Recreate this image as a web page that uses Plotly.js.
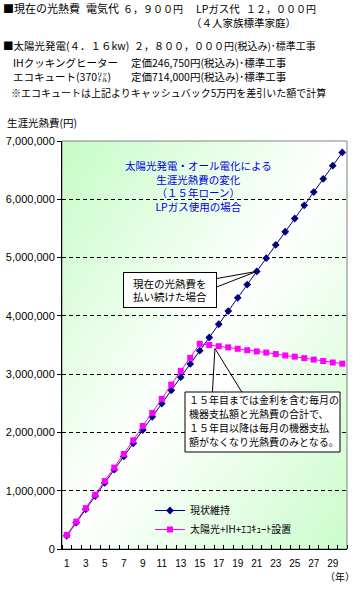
<!DOCTYPE html>
<html><head><meta charset="utf-8">
<script src="https://cdn.plot.ly/plotly-3.0.1.min.js"></script>
<style>html,body{margin:0;padding:0;background:#fff;}#c{width:363px;height:591px;}</style>
</head><body><div id="c"></div>
<script>
// ---- data ----
const years = [1,2,3,4,5,6,7,8,9,10,11,12,13,14,15,16,17,18,19,20,21,22,23,24,25,26,27,28,29,30];
const currentCost = [226800,453600,680400,907200,1134000,1360800,1587600,1814400,2041200,2268000,
  2494800,2721600,2948400,3175200,3402000,3628800,3855600,4082400,4309200,4536000,
  4762800,4989600,5216400,5443200,5670000,5896800,6123600,6350400,6577200,6804000];
const solarCost = [240000,470000,700000,930000,1165000,1395000,1630000,1865000,2110000,2335000,
  2575000,2820000,3055000,3280000,3520000,3500000,3480000,3460000,3435000,3410000,
  3390000,3370000,3345000,3320000,3300000,3275000,3250000,3225000,3200000,3180000];
const seriesNames = ['現状維持','太陽光+IH+ｴｺｷｭｰﾄ設置'];
const xTickVals = [1,3,5,7,9,11,13,15,17,19,21,23,25,27,29];
const yTickVals = [0,1000000,2000000,3000000,4000000,5000000,6000000,7000000];
const yTickText = ['0','1,000,000','2,000,000','3,000,000','4,000,000','5,000,000','6,000,000','7,000,000'];
const noteLines = ['１５年目までは金利を含む毎月の','機器支払額と光熱費の合計で、','１５年目以降は毎月の機器支払','額がなくなり光熱費のみとなる。'];

// ---- geometry helpers (plot area in px) ----
const L = 62, R = 347, T = 141, B = 549;
const px = x => (x - L) / (R - L);
const py = y => (B - y) / (B - T);
const JP = "'Noto Sans CJK JP', sans-serif";
const NUM = "'Liberation Sans', Arial, sans-serif";

function txt(text, x, y, size, extra) {
  return Object.assign({text: text, xref:'paper', yref:'paper', x: px(x), y: py(y),
    xanchor:'left', yanchor:'middle', showarrow:false, borderpad:0,
    font:{family: JP, size: size, color:'#000'}}, extra || {});
}

const annotations = [
  txt('■現在の光熱費', 2, 8, 11),
  txt('電気代', 85, 8, 11),
  txt('６，９００円', 122, 8, 10),
  txt('LPガス代', 195, 8, 10.5),
  txt('１２，０００円', 245, 8, 10),
  txt('（４人家族標準家庭）', 190, 23, 10.5),
  txt('■太陽光発電(４．１６kw)', 2, 46, 10.5),
  txt('２，８００，０００円(税込み)･標準工事', 133, 46, 10),
  txt('IHクッキングヒーター', 12, 62, 10.5),
  txt('定価246,750円(税込み)･標準工事', 130, 62, 10.5),
  txt('エコキュート(370㍑)', 12, 77, 10.5),
  txt('定価714,000円(税込み)･標準工事', 130, 77, 10.5),
  txt('※エコキュートは上記よりキャッシュバック5万円を差引いた額で計算', 10, 92, 10),
  txt('生涯光熱費(円)', 6, 123, 10.5),
  txt('（年）', 324, 576, 10),
  // chart title
  {text:'太陽光発電・オール電化による<br>生涯光熱費の変化<br>（１５年ローン）<br>LPガス使用の場合',
   xref:'paper', yref:'paper', x: px(198), y: py(186), xanchor:'center', yanchor:'middle',
   showarrow:false, align:'center', font:{family: JP, size: 10.5, color:'#0000E0'}},
  // small callout box
  {text:'現在の光熱費を<br>払い続けた場合', xref:'paper', yref:'paper',
   x: px(170), y: py(290), xanchor:'center', yanchor:'middle', showarrow:false,
   width: 90, height: 32, bgcolor:'#fff', bordercolor:'#000', borderwidth:1, borderpad:1,
   align:'center', font:{family: JP, size: 10.5, color:'#000'}}
];
// big callout box lines
noteLines.forEach((s, i) => annotations.push(txt(s, 188, 399 + i * 14.3, 10)));

// px -> data conversion for callout bases
const dx = x => (x - L) / 9.5 + 0.5;
const dy = y => (B - y) / (B - T) * 7000000;

const i21 = years.indexOf(21), i16 = years.indexOf(16);
const wedge1 = `M ${dx(214)},${dy(279)} L ${years[i21]},${currentCost[i21]} L ${dx(214)},${dy(288)} Z`;
const wedge2 = `M ${dx(212.3)},${dy(394)} L ${years[i16] + 0.6},${solarCost[i16] - 60000} L ${dx(243)},${dy(394)} Z`;

const gradSvg = "<svg xmlns='http://www.w3.org/2000/svg' width='285' height='408' viewBox='0 0 285 408' preserveAspectRatio='none'>" +
  "<defs><linearGradient id='g' x1='0' y1='0' x2='1' y2='1'>" +
  "<stop offset='0' stop-color='#c6fcc6'/><stop offset='0.5' stop-color='#ffffff'/><stop offset='1' stop-color='#cbfccb'/>" +
  "</linearGradient></defs><rect width='285' height='408' fill='url(#g)'/></svg>";

const traces = [
  {x: years, y: currentCost, name: seriesNames[0], type:'scatter', mode:'lines+markers',
   line:{color:'#000080', width:1}, marker:{symbol:'diamond', size:6, color:'#000080'}},
  {x: years, y: solarCost, name: seriesNames[1], type:'scatter', mode:'lines+markers',
   line:{color:'#FF00FF', width:1}, marker:{symbol:'square', size:6, color:'#FF00FF'}}
];

const layout = {
  width: 363, height: 591,
  margin: {l: L, r: 363 - R, t: T, b: 591 - B, pad: 0},
  paper_bgcolor:'#fff', plot_bgcolor:'rgba(0,0,0,0)',
  showlegend: true,
  legend: {x: px(150), y: py(496), xanchor:'left', yanchor:'top', bgcolor:'rgba(0,0,0,0)',
    borderwidth:0, font:{family: JP, size: 10, color:'#000'}, tracegroupgap: 0},
  xaxis: {range:[0.5, 30.5], tickmode:'array', tickvals: xTickVals, ticks:'', showgrid:false,
    zeroline:false, showline:true, linecolor:'#000', linewidth:1,
    tickfont:{family: NUM, size: 10, color:'#000'}, ticklabelstandoff: 5,
    minor:{tickmode:'linear', tick0:0.5, dtick:1, ticks:'inside', ticklen:4, tickcolor:'#000', tickwidth:1, showgrid:false}},
  yaxis: {range:[0, 7000000], tickmode:'array', tickvals: yTickVals, ticktext: yTickText,
    ticks:'outside', ticklen:4, tickcolor:'#000', showgrid:true, gridcolor:'#000', gridwidth:1,
    griddash:'4px,3px', zeroline:false, showline:true, linecolor:'#000', linewidth:1,
    tickfont:{family: NUM, size: 11, color:'#000'}},
  images: [{source: 'data:image/svg+xml;charset=utf-8,' + encodeURIComponent(gradSvg),
    xref:'paper', yref:'paper', x:0, y:1, sizex:1, sizey:1, sizing:'stretch', xanchor:'left', yanchor:'top', layer:'below'}],
  shapes: [
    {type:'rect', xref:'paper', yref:'paper', x0:0, x1:1, y0:0, y1:1, line:{color:'#808080', width:1}, layer:'below'},
    {type:'path', xref:'x', yref:'y', path: wedge1, fillcolor:'#fff', line:{color:'#000', width:1}, layer:'above'},
    {type:'path', xref:'x', yref:'y', path: wedge2, fillcolor:'#fff', line:{color:'#000', width:1}, layer:'below'},
    {type:'rect', xref:'paper', yref:'paper', x0: px(185), x1: px(340), y0: py(452), y1: py(392),
     fillcolor:'#fff', line:{color:'#000', width:1}, layer:'above'}
  ],
  annotations: annotations
};

Plotly.newPlot('c', traces, layout, {displayModeBar:false, staticPlot:true});
</script>
</body></html>
